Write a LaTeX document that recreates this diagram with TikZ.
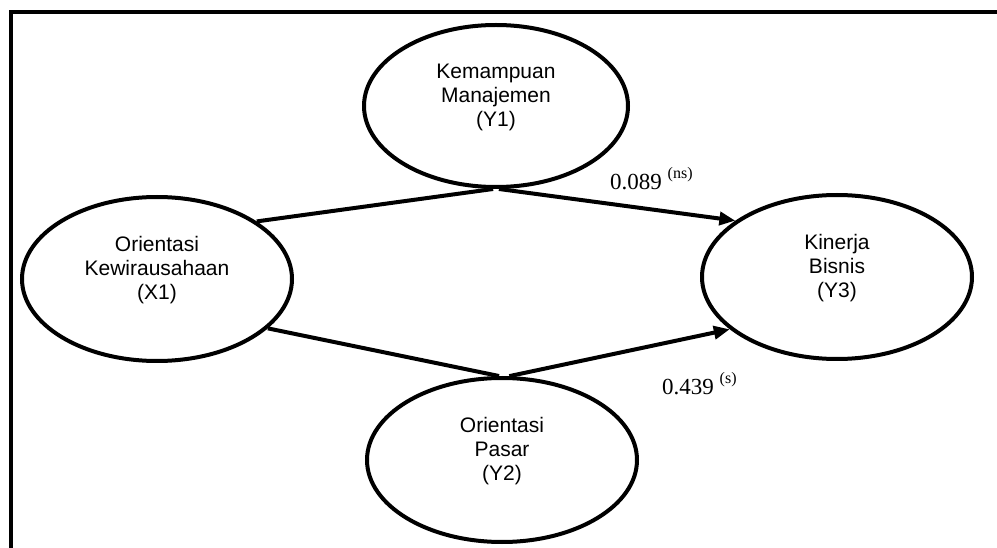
\documentclass[tikz,border=0pt]{standalone}
\usepackage{fontspec}
\setmainfont{Liberation Serif}
\newfontfamily\arialfont{Liberation Sans}
\usetikzlibrary{shapes.geometric,arrows.meta}

\newcommand{\sigmark}[1]{\raisebox{11pt}{\fontsize{16}{16}\selectfont #1}}

\tikzset{
  construct/.style={ellipse, draw, line width=4pt, inner sep=0pt,
    minimum width=270pt, minimum height=164pt},
  ctext/.style={font=\arialfont\fontsize{21}{24}\selectfont, align=center, yshift=9pt},
  path/.style={line width=4pt},
  effect/.style={path, -{Triangle[length=16pt,width=13pt]}},
  coef/.style={font=\fontsize{23}{27}\selectfont, inner sep=0pt, anchor=base west},
  frame/.style={line width=4pt}
}

\begin{document}
\begin{tikzpicture}[x=1pt,y=-1pt]
  \useasboundingbox (0,0) rectangle (997,548);

  % open frame along the top and left edges
  \coordinate (fb) at (11,548);
  \coordinate (fc) at (11,12);
  \coordinate (fr) at (997,12);
  \draw[frame] (fb) -- (fc) -- (fr);

  % constructs
  \node[construct, minimum width=264pt, minimum height=162pt,
        label={[ctext]center:Kemampuan\\Manajemen\\(Y1)}] (Y1) at (496,106) {};
  \node[construct, label={[ctext]center:Orientasi\\Kewirausahaan\\(X1)}] (X1) at (157,279) {};
  \node[construct, label={[ctext]center:Kinerja\\Bisnis\\(Y3)}] (Y3) at (837,277) {};
  \node[construct, label={[ctext]center:Orientasi\\Pasar\\(Y2)}] (Y2) at (502,460) {};

  % paths through the mediators
  \draw[path] (X1.30) -- (Y1.268);
  \draw[effect] (Y1.272) -- (Y3.151);
  \draw[path] (X1.-24) -- (Y2.92);
  \draw[effect] (Y2.85) -- (Y3.206);

  % path coefficients
  \node[coef] (c1) at (610,190) {0.089 \sigmark{(ns)}};
  \node[coef] (c2) at (662,395) {0.439 \sigmark{(s)}};
\end{tikzpicture}
\end{document}
